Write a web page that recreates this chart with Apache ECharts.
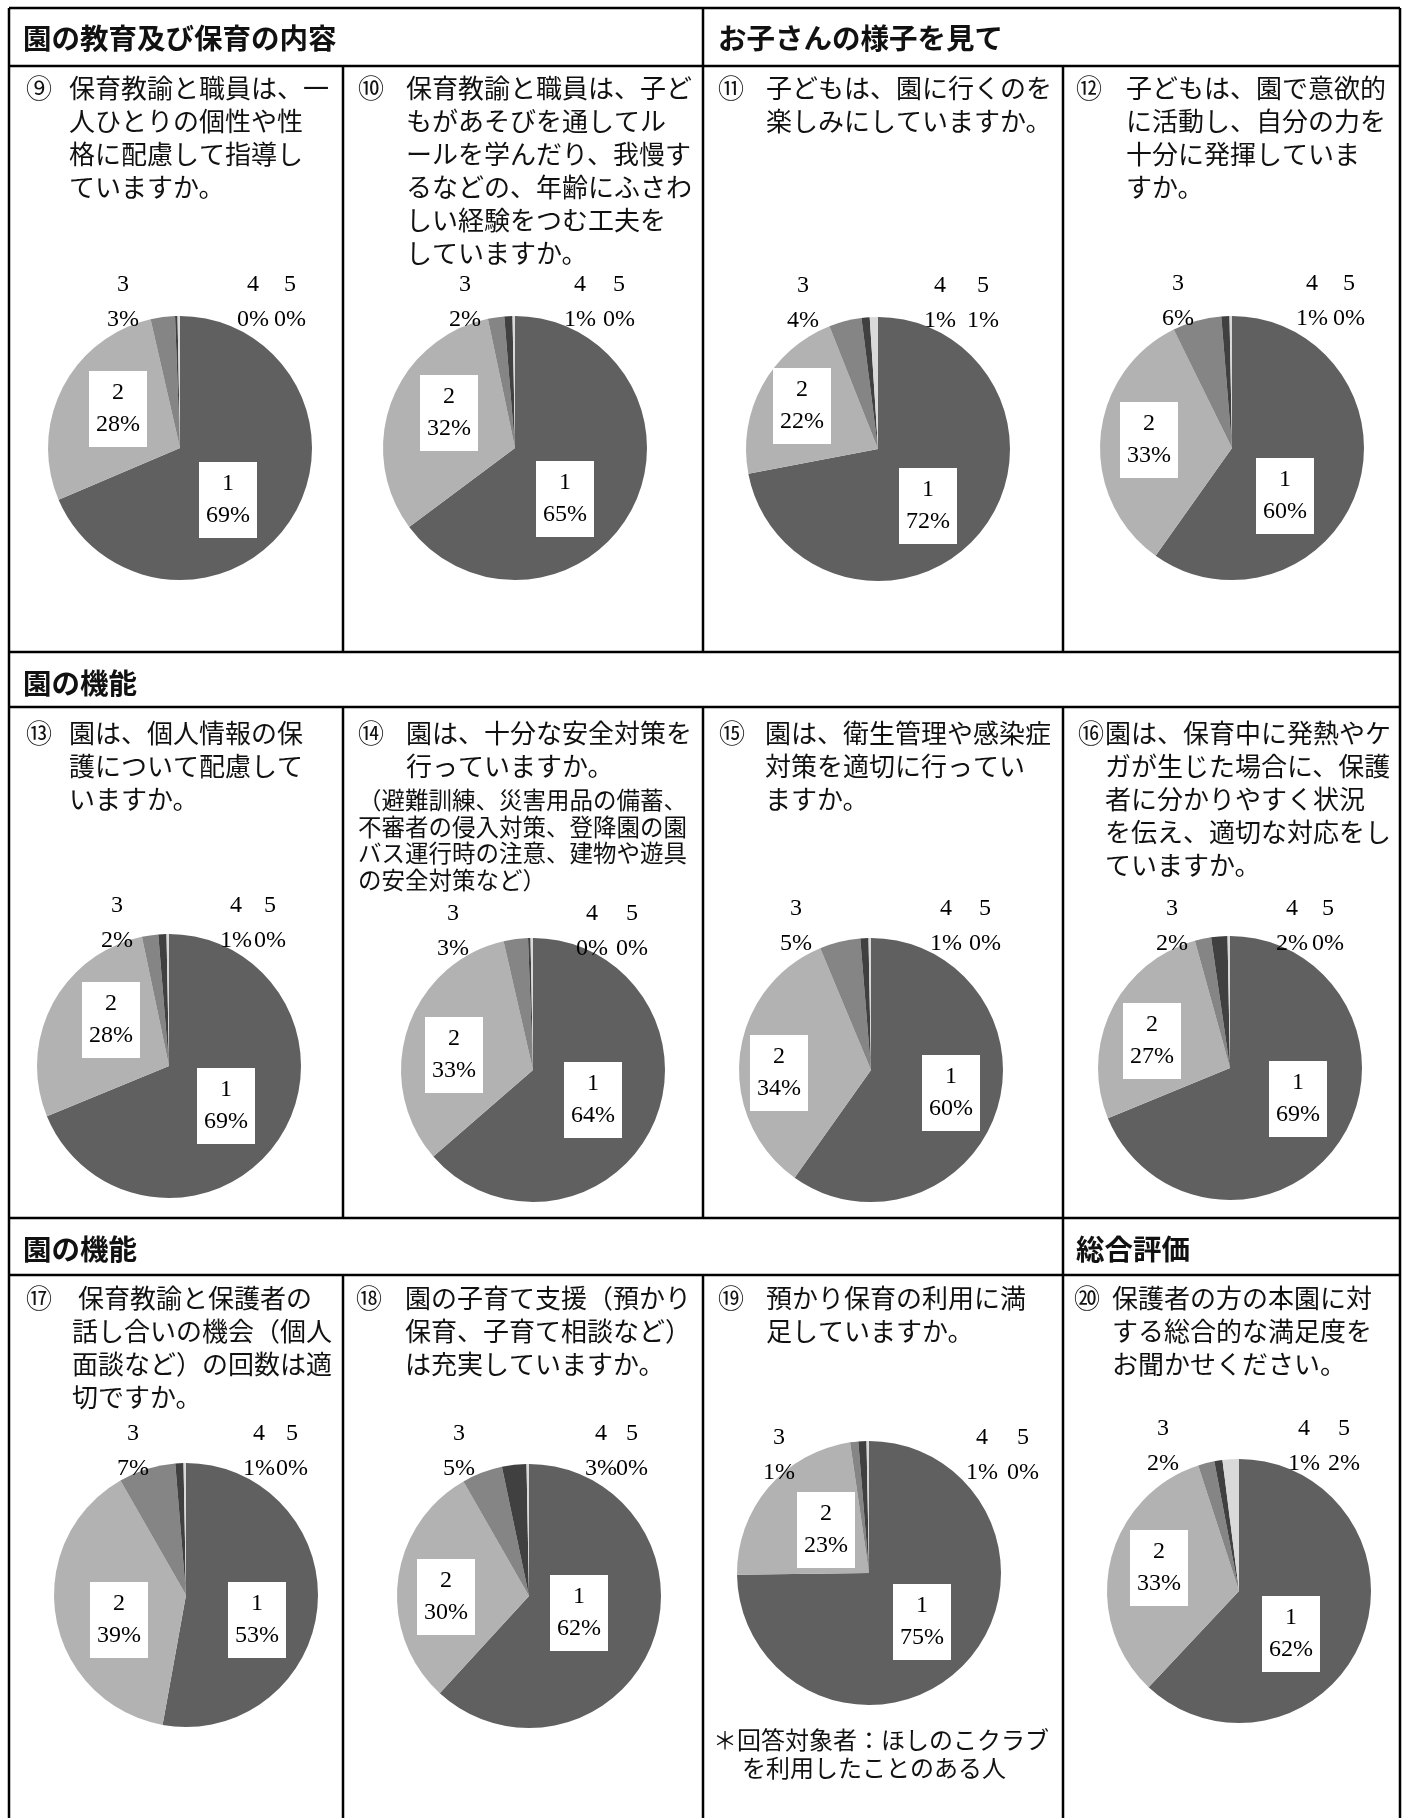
<!DOCTYPE html>
<html>
<head>
<meta charset="utf-8">
<script src="https://cdn.jsdelivr.net/npm/echarts@6/dist/echarts.min.js"></script>
<style>
  html, body { margin: 0; padding: 0; background: #fff; }
  #main { width: 1410px; height: 1818px; }
</style>
</head>
<body>
<div id="main"></div>
<script>
  // 回答区分
  var answerNames = ['1', '2', '3', '4', '5'];

  // 各設問の回答割合(%)  0%表示の細い扇は 0.3 で見積もり
  var pct09 = [69, 28, 3, 0.3, 0.3];
  var pct10 = [65, 32, 2, 1, 0.3];
  var pct11 = [72, 22, 4, 1, 1];
  var pct12 = [60, 33, 6, 1, 0.3];
  var pct13 = [69, 28, 2, 1, 0.3];
  var pct14 = [64, 33, 3, 0.3, 0.3];
  var pct15 = [60, 34, 5, 1, 0.3];
  var pct16 = [69, 27, 2, 2, 0.3];
  var pct17 = [53, 39, 7, 1, 0.3];
  var pct18 = [62, 30, 5, 3, 0.3];
  var pct19 = [75, 23, 1, 1, 0.3];
  var pct20 = [62, 33, 2, 1, 2];

  var headers = ['園の教育及び保育の内容', 'お子さんの様子を見て', '園の機能', '園の機能', '総合評価'];

  var qNumbers = ['⑨', '⑩', '⑪', '⑫', '⑬', '⑭', '⑮', '⑯', '⑰', '⑱', '⑲', '⑳'];
  var qLines = [
    ['保育教諭と職員は、一', '人ひとりの個性や性', '格に配慮して指導し', 'ていますか。'],
    ['保育教諭と職員は、子ど', 'もがあそびを通してル', 'ールを学んだり、我慢す', 'るなどの、年齢にふさわ', 'しい経験をつむ工夫を', 'していますか。'],
    ['子どもは、園に行くのを', '楽しみにしていますか。'],
    ['子どもは、園で意欲的', 'に活動し、自分の力を', '十分に発揮していま', 'すか。'],
    ['園は、個人情報の保', '護について配慮して', 'いますか。'],
    ['園は、十分な安全対策を', '行っていますか。'],
    ['園は、衛生管理や感染症', '対策を適切に行ってい', 'ますか。'],
    ['園は、保育中に発熱やケ', 'ガが生じた場合に、保護', '者に分かりやすく状況', 'を伝え、適切な対応をし', 'ていますか。'],
    ['保育教諭と保護者の', '話し合いの機会（個人', '面談など）の回数は適', '切ですか。'],
    ['園の子育て支援（預かり', '保育、子育て相談など）', 'は充実していますか。'],
    ['預かり保育の利用に満', '足していますか。'],
    ['保護者の方の本園に対', 'する総合的な満足度を', 'お聞かせください。']
  ];
  var q14Note = ['（避難訓練、災害用品の備蓄、', '不審者の侵入対策、登降園の園', 'バス運行時の注意、建物や遊具', 'の安全対策など）'];
  var q19Note = ['＊回答対象者：ほしのこクラブ', 'を利用したことのある人'];

  var allPct = [pct09, pct10, pct11, pct12, pct13, pct14, pct15, pct16, pct17, pct18, pct19, pct20];

  // ---- レイアウト ----
  var W = 1410, H = 1818;
  var colX = [9, 343, 703, 1063, 1400];
  var rowY = {top: 8, h1: 66, r2a: 652, r2b: 707, r3a: 1218, r3b: 1275};
  var numX = [26, 358, 718, 1076, 26, 358, 719, 1078, 26, 356, 718, 1074];
  var textX = [69, 406, 766, 1126, 69, 406, 765, 1105, 72, 405, 766, 1112];
  var firstY = [88, 733, 1298];
  var lineGap = 33;

  var pieCenters = [[180, 448], [515, 448], [878, 449], [1232, 448],
                    [169, 1066], [533, 1070], [871, 1070], [1230, 1068],
                    [186, 1595], [529, 1596], [869, 1573], [1239, 1591]];
  var pieRadius = 132;
  // 「1」「2」の白枠ラベル位置(円の中心からのずれ)
  var innerOff = [
    [[48, 52], [-62, -39]], [[50, 51], [-66, -35]], [[50, 57], [-76, -43]], [[53, 48], [-83, -8]],
    [[57, 40], [-58, -46]], [[60, 30], [-79, -15]], [[80, 23], [-92, 3]], [[68, 31], [-78, -27]],
    [[71, 25], [-67, 25]], [[50, 17], [-83, 1]], [[53, 49], [-43, -43]], [[52, 43], [-80, -23]]
  ];
  // 「3」「4」「5」の外側ラベル位置
  var outerDx = [[-57, 73, 110], [-50, 65, 104], [-75, 62, 105], [-54, 80, 117],
                 [-52, 67, 101], [-80, 59, 99], [-75, 75, 114], [-58, 62, 98],
                 [-53, 73, 106], [-70, 72, 103], [-90, 113, 154], [-76, 65, 105]];
  var outerDy = [-164, -164, -164, -165, -161, -157, -162, -160, -162, -163, -136, -163];

  var sliceColors = ['#606060', '#b2b2b2', '#858585', '#404040', '#d9d9d9'];
  var jpFont = '"Noto Sans CJK JP", sans-serif';
  var numFont = '"Liberation Serif", "DejaVu Serif", serif';

  var chart = echarts.init(document.getElementById('main'));

  // 罫線
  var elements = [];
  function hline(y, x1, x2) {
    elements.push({type: 'line', shape: {x1: x1, y1: y, x2: x2, y2: y}, style: {stroke: '#000', lineWidth: 2.5}});
  }
  function vline(x, y1, y2) {
    elements.push({type: 'line', shape: {x1: x, y1: y1, x2: x, y2: y2}, style: {stroke: '#000', lineWidth: 2.5}});
  }
  hline(rowY.top, colX[0], colX[4]);
  hline(rowY.h1, colX[0], colX[4]);
  hline(rowY.r2a, colX[0], colX[4]);
  hline(rowY.r2b, colX[0], colX[4]);
  hline(rowY.r3a, colX[0], colX[4]);
  hline(rowY.r3b, colX[0], colX[4]);
  vline(colX[0], rowY.top, H);
  vline(colX[4], rowY.top, H);
  vline(colX[1], rowY.h1, rowY.r2a);
  vline(colX[1], rowY.r2b, rowY.r3a);
  vline(colX[1], rowY.r3b, H);
  vline(colX[2], rowY.top, rowY.r2a);
  vline(colX[2], rowY.r2b, rowY.r3a);
  vline(colX[2], rowY.r3b, H);
  vline(colX[3], rowY.h1, rowY.r2a);
  vline(colX[3], rowY.r2b, H);

  function txt(s, x, y, size, weight) {
    elements.push({
      type: 'text', x: x, y: y,
      style: {text: s, fontSize: size, fontFamily: jpFont, fontWeight: weight || 'normal',
              fill: '#111', align: 'left', verticalAlign: 'middle'}
    });
  }

  // 見出し
  txt(headers[0], 23, 38, 28.5, 'bold');
  txt(headers[1], 718, 38, 28.5, 'bold');
  txt(headers[2], 23, 683, 28.5, 'bold');
  txt(headers[3], 23, 1249, 28.5, 'bold');
  txt(headers[4], 1076, 1249, 28.5, 'bold');

  // 設問文
  for (var q = 0; q < 12; q++) {
    var y0 = firstY[Math.floor(q / 4)];
    txt(qNumbers[q], numX[q], y0, 26);
    for (var l = 0; l < qLines[q].length; l++) {
      // ⑰の1行目だけ字下げ
      var x0 = (q === 8 && l === 0) ? 78 : textX[q];
      txt(qLines[q][l], x0, y0 + l * lineGap, 26);
    }
  }
  for (var n = 0; n < q14Note.length; n++) {
    txt(q14Note[n], 358, 800 + n * 26.7, 23.5);
  }
  txt(q19Note[0], 713, 1740, 24);
  txt(q19Note[1], 742, 1768, 24);

  // 円グラフ
  var series = allPct.map(function (vals, k) {
    return {
      type: 'pie',
      center: pieCenters[k],
      radius: pieRadius,
      startAngle: 90,
      clockwise: true,
      avoidLabelOverlap: false,
      silent: true,
      data: vals.map(function (v, i) {
        return {
          name: answerNames[i],
          value: v,
          itemStyle: {color: sliceColors[i]},
          label: i < 2 ? {
            position: 'inside', backgroundColor: '#fff', padding: [6, 7], lineHeight: 32
          } : {
            position: 'outside', lineHeight: 35
          }
        };
      }),
      label: {
        show: true,
        color: '#000',
        fontSize: 24,
        fontFamily: numFont,
        align: 'center',
        formatter: function (p) { return p.name + '\n' + Math.round(p.value) + '%'; }
      },
      labelLine: {show: false},
      labelLayout: function (p) {
        var c = pieCenters[k];
        if (p.dataIndex < 2) {
          var o = innerOff[k][p.dataIndex];
          return {x: c[0] + o[0], y: c[1] + o[1], align: 'center', verticalAlign: 'middle'};
        }
        return {
          x: c[0] + outerDx[k][p.dataIndex - 2],
          y: c[1] + outerDy[k] + 18,
          align: 'center',
          verticalAlign: 'middle'
        };
      }
    };
  });

  chart.setOption({
    backgroundColor: '#fff',
    animation: false,
    graphic: {elements: elements},
    series: series
  });
</script>
</body>
</html>
